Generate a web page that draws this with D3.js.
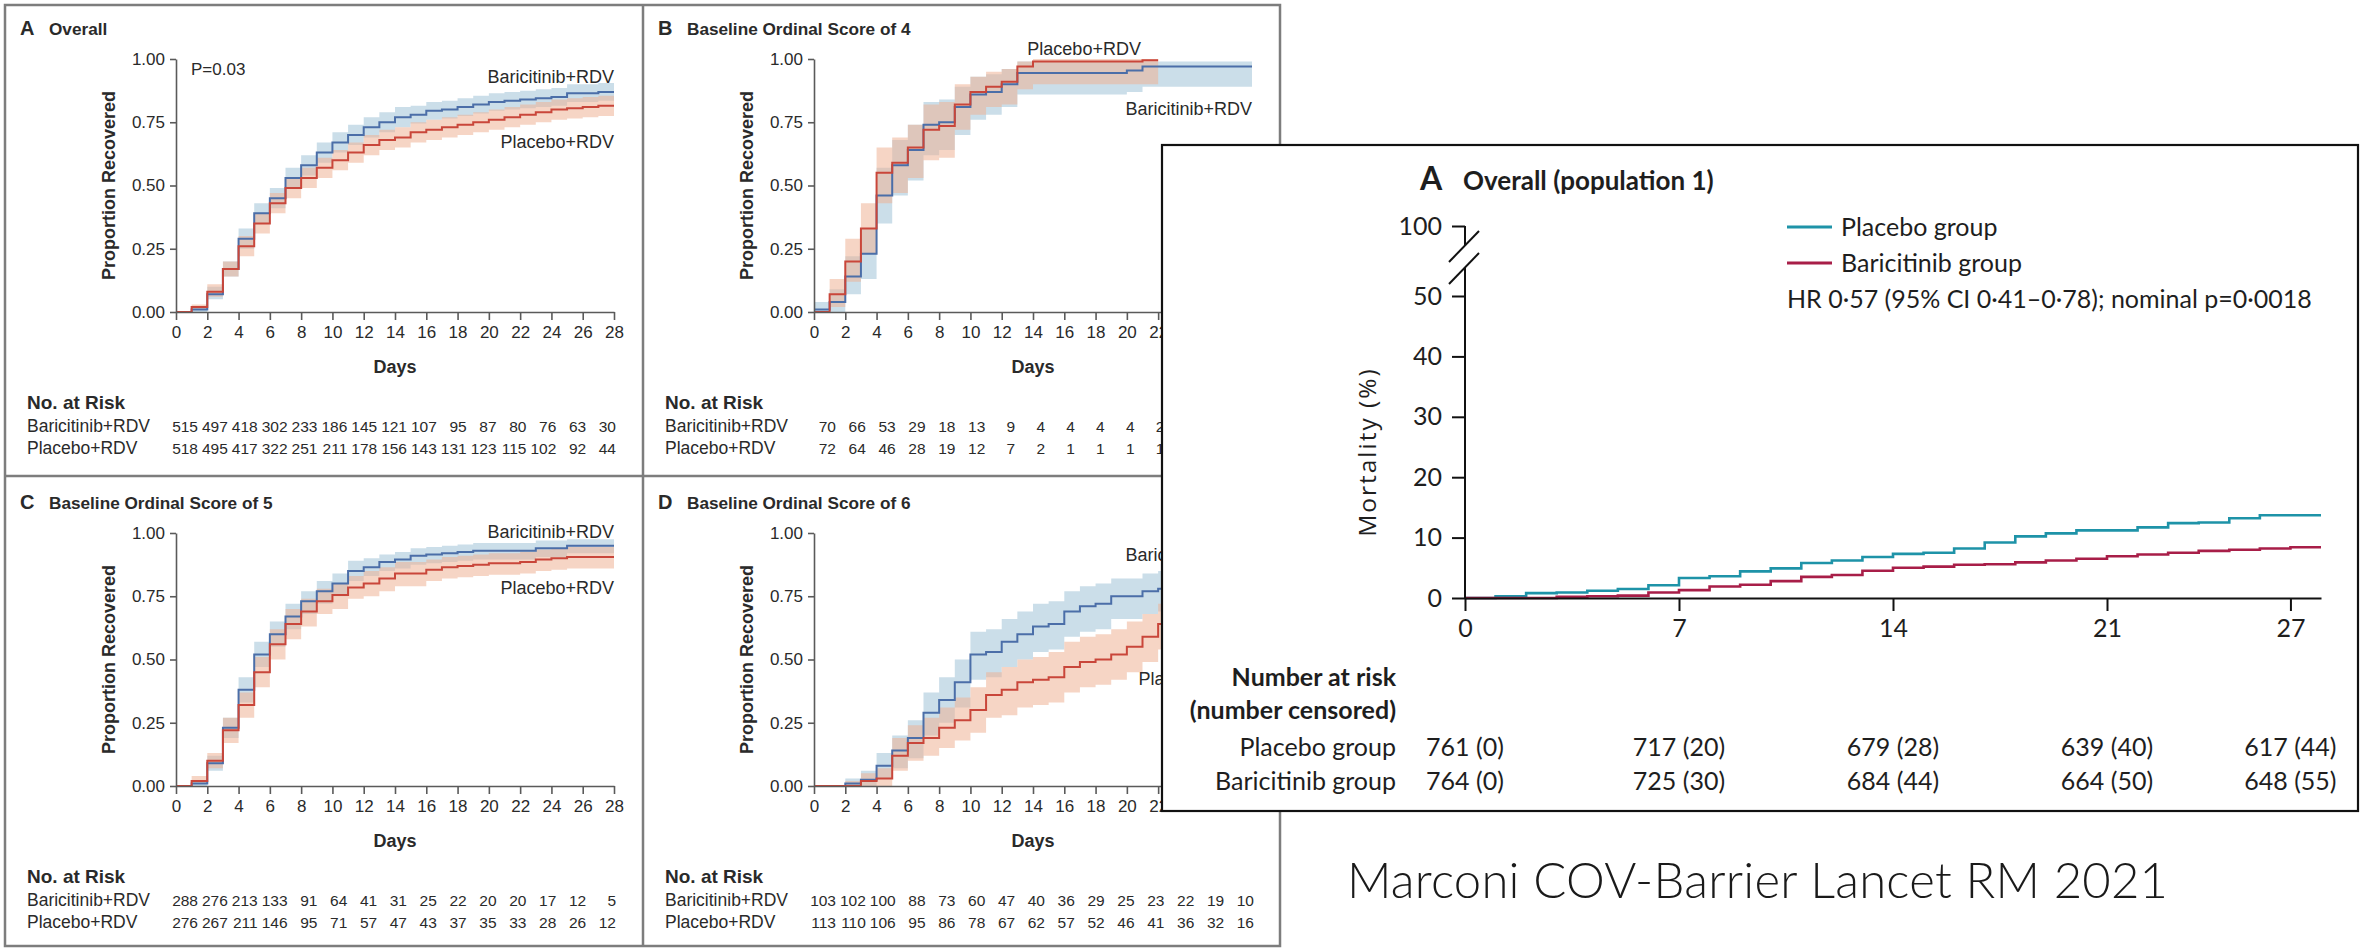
<!DOCTYPE html>
<html><head><meta charset="utf-8">
<script src="https://cdn.jsdelivr.net/npm/d3@7"></script>
<style>
body{margin:0;background:#fff}
.nejm text{font-family:"Liberation Sans",Arial,sans-serif;fill:#2a2a2a}
.lan text{font-family:Lato,"Open Sans",sans-serif;fill:#1e1e1e}
</style></head>
<body><svg id="c" width="2361" height="949"></svg>
<script>
// ---------- DATA: NEJM recovery curves (value per day interval 0..27) ----------
const nejmTicks = [0,2,4,6,8,10,12,14,16,18,20,22,24,26,28];
const yTicksNejm = [0,0.25,0.5,0.75,1];

// Panel A Overall
const A_bari    = [0,0.01,0.07,0.17,0.29,0.39,0.45,0.53,0.58,0.63,0.67,0.70,0.73,0.75,0.77,0.78,0.795,0.80,0.81,0.82,0.83,0.835,0.84,0.845,0.85,0.865,0.865,0.87];
const A_bariLo  = [0,0,0.05,0.14,0.25,0.35,0.41,0.49,0.54,0.59,0.63,0.66,0.69,0.71,0.73,0.745,0.76,0.765,0.775,0.785,0.795,0.80,0.805,0.81,0.815,0.83,0.83,0.835];
const A_bariHi  = [0,0.02,0.10,0.20,0.33,0.43,0.49,0.57,0.62,0.67,0.71,0.74,0.77,0.79,0.81,0.815,0.83,0.835,0.845,0.855,0.865,0.87,0.875,0.88,0.885,0.90,0.90,0.905];
const A_plac    = [0,0.02,0.08,0.17,0.26,0.35,0.43,0.49,0.53,0.57,0.60,0.63,0.66,0.68,0.69,0.71,0.72,0.73,0.74,0.75,0.76,0.77,0.78,0.79,0.80,0.805,0.81,0.815];
const A_placLo  = [0,0.01,0.06,0.14,0.22,0.31,0.39,0.45,0.49,0.53,0.56,0.59,0.62,0.64,0.65,0.67,0.68,0.69,0.70,0.71,0.72,0.73,0.74,0.75,0.76,0.765,0.77,0.775];
const A_placHi  = [0,0.03,0.11,0.20,0.30,0.39,0.47,0.53,0.57,0.61,0.64,0.67,0.70,0.72,0.73,0.75,0.76,0.77,0.78,0.79,0.80,0.81,0.82,0.83,0.84,0.845,0.85,0.855];
const A_riskBari = [515,497,418,302,233,186,145,121,107,95,87,80,76,63,30];
const A_riskPlac = [518,495,417,322,251,211,178,156,143,131,123,115,102,92,44];

// Panel B Baseline ordinal score 4
const B_bari    = [0.01,0.04,0.14,0.23,0.46,0.58,0.64,0.74,0.75,0.81,0.86,0.87,0.90,0.945,0.945,0.945,0.945,0.945,0.945,0.945,0.955,0.97,0.97,0.97,0.97,0.97,0.97,0.97];
const B_bariLo  = [0,0,0.07,0.13,0.35,0.46,0.52,0.62,0.64,0.70,0.76,0.78,0.81,0.86,0.86,0.86,0.86,0.86,0.86,0.86,0.87,0.89,0.89,0.89,0.89,0.89,0.89,0.89];
const B_bariHi  = [0.04,0.09,0.22,0.33,0.57,0.68,0.74,0.83,0.84,0.89,0.93,0.94,0.96,0.99,0.99,0.99,0.99,0.99,0.99,0.99,0.99,0.99,0.99,0.99,0.99,0.99,0.99,0.99];
const B_plac    = [0,0.07,0.20,0.33,0.55,0.59,0.65,0.72,0.735,0.82,0.87,0.89,0.91,0.97,0.99,0.99,0.99,0.99,0.99,0.99,0.99,0.995];
const B_placLo  = [0,0.02,0.12,0.23,0.43,0.47,0.53,0.60,0.61,0.72,0.78,0.81,0.82,0.88,0.90,0.90,0.90,0.90,0.90,0.90,0.90,0.90];
const B_placHi  = [0,0.13,0.29,0.43,0.65,0.69,0.74,0.82,0.83,0.90,0.93,0.95,0.96,0.99,1,1,1,1,1,1,1,1];
const B_riskBari = [70,66,53,29,18,13,9,4,4,4,4,2];
const B_riskPlac = [72,64,46,28,19,12,7,2,1,1,1,1];

// Panel C Baseline ordinal score 5
const C_bari    = [0,0.01,0.09,0.23,0.38,0.52,0.60,0.67,0.73,0.77,0.80,0.85,0.865,0.885,0.895,0.91,0.915,0.92,0.925,0.93,0.93,0.93,0.93,0.94,0.94,0.95,0.95,0.95];
const C_bariLo  = [0,0,0.06,0.19,0.33,0.47,0.55,0.62,0.68,0.72,0.75,0.81,0.83,0.85,0.86,0.875,0.88,0.885,0.89,0.895,0.895,0.895,0.895,0.905,0.905,0.92,0.92,0.92];
const C_bariHi  = [0,0.02,0.12,0.27,0.43,0.57,0.65,0.72,0.77,0.81,0.84,0.89,0.90,0.915,0.925,0.94,0.945,0.95,0.955,0.96,0.96,0.96,0.96,0.97,0.97,0.975,0.975,0.975];
const C_plac    = [0,0.02,0.10,0.22,0.32,0.45,0.56,0.64,0.69,0.73,0.755,0.785,0.80,0.82,0.84,0.84,0.855,0.865,0.87,0.875,0.88,0.88,0.885,0.895,0.90,0.905,0.905,0.905];
const C_placLo  = [0,0.01,0.07,0.17,0.27,0.39,0.50,0.58,0.63,0.68,0.70,0.74,0.75,0.77,0.79,0.79,0.81,0.82,0.825,0.83,0.835,0.835,0.84,0.85,0.855,0.86,0.86,0.86];
const C_placHi  = [0,0.04,0.13,0.27,0.37,0.51,0.62,0.70,0.74,0.78,0.80,0.83,0.85,0.865,0.885,0.885,0.895,0.905,0.91,0.915,0.92,0.92,0.925,0.935,0.94,0.945,0.945,0.945];
const C_riskBari = [288,276,213,133,91,64,41,31,25,22,20,20,17,12,5];
const C_riskPlac = [276,267,211,146,95,71,57,47,43,37,35,33,28,26,12];

// Panel D Baseline ordinal score 6
const D_bari    = [0,0,0.01,0.025,0.08,0.14,0.19,0.29,0.34,0.41,0.52,0.53,0.57,0.60,0.63,0.64,0.69,0.71,0.72,0.75,0.75,0.77,0.78,0.79,0.80,0.81,0.82,0.82];
const D_bariLo  = [0,0,0,0,0.03,0.07,0.11,0.20,0.25,0.31,0.42,0.43,0.47,0.50,0.53,0.54,0.59,0.61,0.62,0.66,0.66,0.68,0.69,0.70,0.71,0.72,0.73,0.73];
const D_bariHi  = [0,0,0.03,0.06,0.13,0.20,0.26,0.37,0.43,0.50,0.61,0.62,0.66,0.69,0.72,0.73,0.77,0.79,0.80,0.82,0.82,0.84,0.85,0.86,0.87,0.88,0.89,0.89];
const D_plac    = [0,0,0,0.02,0.03,0.12,0.17,0.19,0.23,0.26,0.30,0.36,0.38,0.41,0.42,0.43,0.47,0.49,0.50,0.52,0.55,0.59,0.64,0.65,0.66,0.67,0.68,0.68];
const D_placLo  = [0,0,0,0,0,0.06,0.10,0.12,0.15,0.18,0.21,0.27,0.28,0.31,0.32,0.33,0.37,0.39,0.40,0.42,0.45,0.49,0.54,0.55,0.56,0.57,0.58,0.58];
const D_placHi  = [0,0,0.02,0.05,0.07,0.19,0.24,0.27,0.31,0.35,0.39,0.45,0.47,0.50,0.51,0.53,0.57,0.59,0.60,0.62,0.65,0.68,0.72,0.73,0.74,0.75,0.76,0.76];
const D_riskBari = [103,102,100,88,73,60,47,40,36,29,25,23,22,19,10];
const D_riskPlac = [113,110,106,95,86,78,67,62,57,52,46,41,36,32,16];

// ---------- DATA: Lancet mortality curves (%, per day interval 0..27) ----------
const lanPlacebo = [0,0.3,0.8,0.9,1.2,1.5,2.1,3.3,3.6,4.4,4.9,5.8,6.2,6.8,7.3,7.5,8.2,9.2,10.2,10.7,11.2,11.2,11.7,12.4,12.5,13.2,13.7,13.7];
const lanBari    = [0,0,0,0.2,0.3,0.4,0.9,1.3,1.9,2.2,2.8,3.5,3.8,4.5,5.0,5.2,5.5,5.6,5.9,6.2,6.5,6.9,7.2,7.5,7.8,8.0,8.2,8.4];
const lanXTicks = [0,7,14,21,27];
const lanYTicks = [0,10,20,30,40,50,100];
const lanRiskPlacebo = ["761 (0)","717 (20)","679 (28)","639 (40)","617 (44)"];
const lanRiskBari    = ["764 (0)","725 (30)","684 (44)","664 (50)","648 (55)"];

// ---------- colours ----------
const BLUE="#4b6ea8", RED="#c9463a", BLUEBAND="#a9c8db", REDBAND="#eeb396";
const TEAL="#1e93a8", CRIMSON="#a81e48";

const svg = d3.select("#c");
const nejm = svg.append("g").attr("class","nejm");

// panel frame lines
const frame = nejm.append("g").attr("stroke","#7d7d7d").attr("stroke-width",2.5).attr("fill","none");
frame.append("rect").attr("x",5).attr("y",5).attr("width",1275).attr("height",941);
frame.append("line").attr("x1",643).attr("x2",643).attr("y1",5).attr("y2",946);
frame.append("line").attr("x1",5).attr("x2",1280).attr("y1",476).attr("y2",476);

const panels = [
  {ox:5,oy:5,letter:"A",title:"Overall",
   bari:[A_bari,A_bariLo,A_bariHi], plac:[A_plac,A_placLo,A_placHi],
   riskB:A_riskBari, riskP:A_riskPlac, pval:"P=0.03",
   labels:[{t:"Baricitinib+RDV",d:28,v:0.905},{t:"Placebo+RDV",d:28,v:0.65}]},
  {ox:643,oy:5,letter:"B",title:"Baseline Ordinal Score of 4",
   bari:[B_bari,B_bariLo,B_bariHi], plac:[B_plac,B_placLo,B_placHi],
   riskB:B_riskBari, riskP:B_riskPlac,
   labels:[{t:"Placebo+RDV",d:20.9,v:1.017},{t:"Baricitinib+RDV",d:28,v:0.78}]},
  {ox:5,oy:479,letter:"C",title:"Baseline Ordinal Score of 5",
   bari:[C_bari,C_bariLo,C_bariHi], plac:[C_plac,C_placLo,C_placHi],
   riskB:C_riskBari, riskP:C_riskPlac,
   labels:[{t:"Baricitinib+RDV",d:28,v:0.98},{t:"Placebo+RDV",d:28,v:0.76}]},
  {ox:643,oy:479,letter:"D",title:"Baseline Ordinal Score of 6",
   bari:[D_bari,D_bariLo,D_bariHi], plac:[D_plac,D_placLo,D_placHi],
   riskB:D_riskBari, riskP:D_riskPlac,
   labels:[{t:"Baricitinib+RDV",d:28,v:0.89},{t:"Placebo+RDV",d:28,v:0.40}]}
];

function stepPts(v){ const p=v.map((y,i)=>[i,y]); p.push([v.length,v[v.length-1]]); return p; }

panels.forEach(P=>{
  const g = nejm.append("g").attr("transform",`translate(${P.ox},${P.oy})`);
  const x = d3.scaleLinear().domain([0,28]).range([171,609]);
  const y = d3.scaleLinear().domain([0,1]).range([307,54]);
  const riskX = d3.scaleLinear().domain([0,28]).range([193,611]);
  const area = d3.area().curve(d3.curveStepAfter).x(d=>x(d[0])).y0(d=>y(d[1])).y1(d=>y(d[2]));
  const line = d3.line().curve(d3.curveStepAfter).x(d=>x(d[0])).y(d=>y(d[1]));
  const bandPts = s => { const p=s[0].map((_,i)=>[i,s[1][i],s[2][i]]); p.push([s[0].length,s[1][s[1].length-1],s[2][s[2].length-1]]); return p; };

  g.append("path").attr("d",area(bandPts(P.bari))).attr("fill",BLUEBAND).attr("fill-opacity",0.6);
  g.append("path").attr("d",area(bandPts(P.plac))).attr("fill",REDBAND).attr("fill-opacity",0.55);
  g.append("path").attr("d",line(stepPts(P.bari[0]))).attr("fill","none").attr("stroke",BLUE).attr("stroke-width",2);
  g.append("path").attr("d",line(stepPts(P.plac[0]))).attr("fill","none").attr("stroke",RED).attr("stroke-width",2);

  const ya = g.append("g").attr("transform",`translate(171,0)`)
    .call(d3.axisLeft(y).tickValues(yTicksNejm).tickFormat(d3.format(".2f")).tickSize(6).tickSizeOuter(0).tickPadding(5));
  const xa = g.append("g").attr("transform",`translate(0,307)`)
    .call(d3.axisBottom(x).tickValues(nejmTicks).tickSize(8).tickSizeOuter(0).tickPadding(6));
  [ya,xa].forEach(a=>{
    a.selectAll("path,line").attr("stroke","#5a5a5a").attr("stroke-width",1.6);
    a.selectAll("text").attr("font-size",17).attr("fill","#2a2a2a").style("font-family",'"Liberation Sans",Arial,sans-serif');
  });

  g.append("text").attr("x",15).attr("y",30).attr("font-size",20).attr("font-weight","bold").text(P.letter);
  g.append("text").attr("x",44).attr("y",30).attr("font-size",17.2).attr("font-weight","bold").text(P.title);
  g.append("text").attr("transform",`translate(110,${(54+307)/2}) rotate(-90)`).attr("text-anchor","middle")
    .attr("font-size",18).attr("font-weight","bold").text("Proportion Recovered");
  g.append("text").attr("x",390).attr("y",368).attr("text-anchor","middle").attr("font-size",18).attr("font-weight","bold").text("Days");
  if(P.pval) g.append("text").attr("x",186).attr("y",70).attr("font-size",17).text(P.pval);
  P.labels.forEach(L=> g.append("text").attr("x",x(L.d)).attr("y",y(L.v)).attr("text-anchor","end").attr("font-size",18).text(L.t));

  g.append("text").attr("x",22).attr("y",404).attr("font-size",19).attr("font-weight","bold").text("No. at Risk");
  g.append("text").attr("x",22).attr("y",427).attr("font-size",17.5).text("Baricitinib+RDV");
  g.append("text").attr("x",22).attr("y",449).attr("font-size",17.5).text("Placebo+RDV");
  [[P.riskB,427],[P.riskP,449]].forEach(([arr,yy])=>{
    g.selectAll(null).data(arr).enter().append("text")
      .attr("x",(d,i)=>riskX(nejmTicks[i])).attr("y",yy).attr("text-anchor","end").attr("font-size",15.5).text(d=>d);
  });
});

// ---------- Lancet overlay ----------
svg.append("rect").attr("x",1162).attr("y",145).attr("width",1196).attr("height",666)
  .attr("fill","#fff").attr("stroke","#111").attr("stroke-width",2.2);

const lan = svg.append("g").attr("class","lan");
const lx = d3.scaleLinear().domain([0,28]).range([1465,2321]);
const ly = d3.scaleLinear().domain([0,50,100]).range([598,296,226]);
const lline = d3.line().curve(d3.curveStepAfter).x(d=>lx(d[0])).y(d=>ly(d[1]));
lan.append("path").attr("d",lline(stepPts(lanPlacebo))).attr("fill","none").attr("stroke",TEAL).attr("stroke-width",2.6);
lan.append("path").attr("d",lline(stepPts(lanBari))).attr("fill","none").attr("stroke",CRIMSON).attr("stroke-width",2.6);

const lya = lan.append("g").attr("transform",`translate(${lx(0)},0)`)
  .call(d3.axisLeft(ly).tickValues(lanYTicks).tickSize(13).tickPadding(10).tickFormat(d3.format("d")));
lya.select(".domain").remove();
const lxa = lan.append("g").attr("transform",`translate(0,${ly(0)})`)
  .call(d3.axisBottom(lx).tickValues(lanXTicks).tickSize(13).tickSizeOuter(0).tickPadding(8));
[lya,lxa].forEach(a=>{
  a.selectAll("path,line").attr("stroke","#111").attr("stroke-width",2);
  a.selectAll("text").attr("font-size",25).attr("fill","#1e1e1e").style("font-family","Lato,'Open Sans',sans-serif");
});
// broken y axis
const ax = lx(0), brk = lan.append("g").attr("stroke","#111").attr("stroke-width",2).attr("fill","none");
brk.append("line").attr("x1",ax).attr("x2",ax).attr("y1",ly(0)).attr("y2",ly(50)-28);
brk.append("line").attr("x1",ax).attr("x2",ax).attr("y1",ly(100)).attr("y2",ly(100)+20);
brk.append("line").attr("x1",ax-16).attr("y1",ly(100)+36).attr("x2",ax+14).attr("y2",ly(100)+5);
brk.append("line").attr("x1",ax-16).attr("y1",ly(100)+58).attr("x2",ax+14).attr("y2",ly(100)+27);

lan.append("text").attr("x",1420).attr("y",190).attr("font-size",32).attr("font-weight","bold").text("A");
lan.append("text").attr("x",1463).attr("y",190).attr("font-size",26).attr("font-weight","bold").text("Overall (population 1)");
lan.append("text").attr("transform",`translate(1376,452) rotate(-90)`).attr("text-anchor","middle")
  .attr("font-size",24.5).attr("letter-spacing",2).style("font-family","'Open Sans',Lato,sans-serif").text("Mortality (%)");

// legend
[[TEAL,"Placebo group",227],[CRIMSON,"Baricitinib group",263]].forEach(([c,t,yy])=>{
  lan.append("line").attr("x1",1787).attr("x2",1832).attr("y1",yy).attr("y2",yy).attr("stroke",c).attr("stroke-width",3);
  lan.append("text").attr("x",1841).attr("y",yy+9).attr("font-size",25).text(t);
});
lan.append("text").attr("x",1787).attr("y",308).attr("font-size",25).text("HR 0·57 (95% CI 0·41–0·78); nominal p=0·0018");

// number at risk
lan.append("text").attr("x",1396).attr("y",686).attr("text-anchor","end").attr("font-size",25).attr("font-weight","bold").text("Number at risk");
lan.append("text").attr("x",1396).attr("y",719).attr("text-anchor","end").attr("font-size",25).attr("font-weight","bold").text("(number censored)");
lan.append("text").attr("x",1396).attr("y",756).attr("text-anchor","end").attr("font-size",25).text("Placebo group");
lan.append("text").attr("x",1396).attr("y",790).attr("text-anchor","end").attr("font-size",25).text("Baricitinib group");
[[lanRiskPlacebo,756],[lanRiskBari,790]].forEach(([arr,yy])=>{
  lan.selectAll(null).data(arr).enter().append("text")
    .attr("x",(d,i)=>lx(lanXTicks[i])).attr("y",yy).attr("text-anchor","middle").attr("font-size",25).text(d=>d);
});

// caption
svg.append("text").attr("x",1347).attr("y",898).attr("font-size",49).attr("font-weight",300)
  .attr("textLength",821).attr("lengthAdjust","spacing")
  .style("font-family","Lato,'Open Sans',sans-serif").attr("fill","#1a1a1a").text("Marconi COV-Barrier Lancet RM 2021");
</script></body></html>
